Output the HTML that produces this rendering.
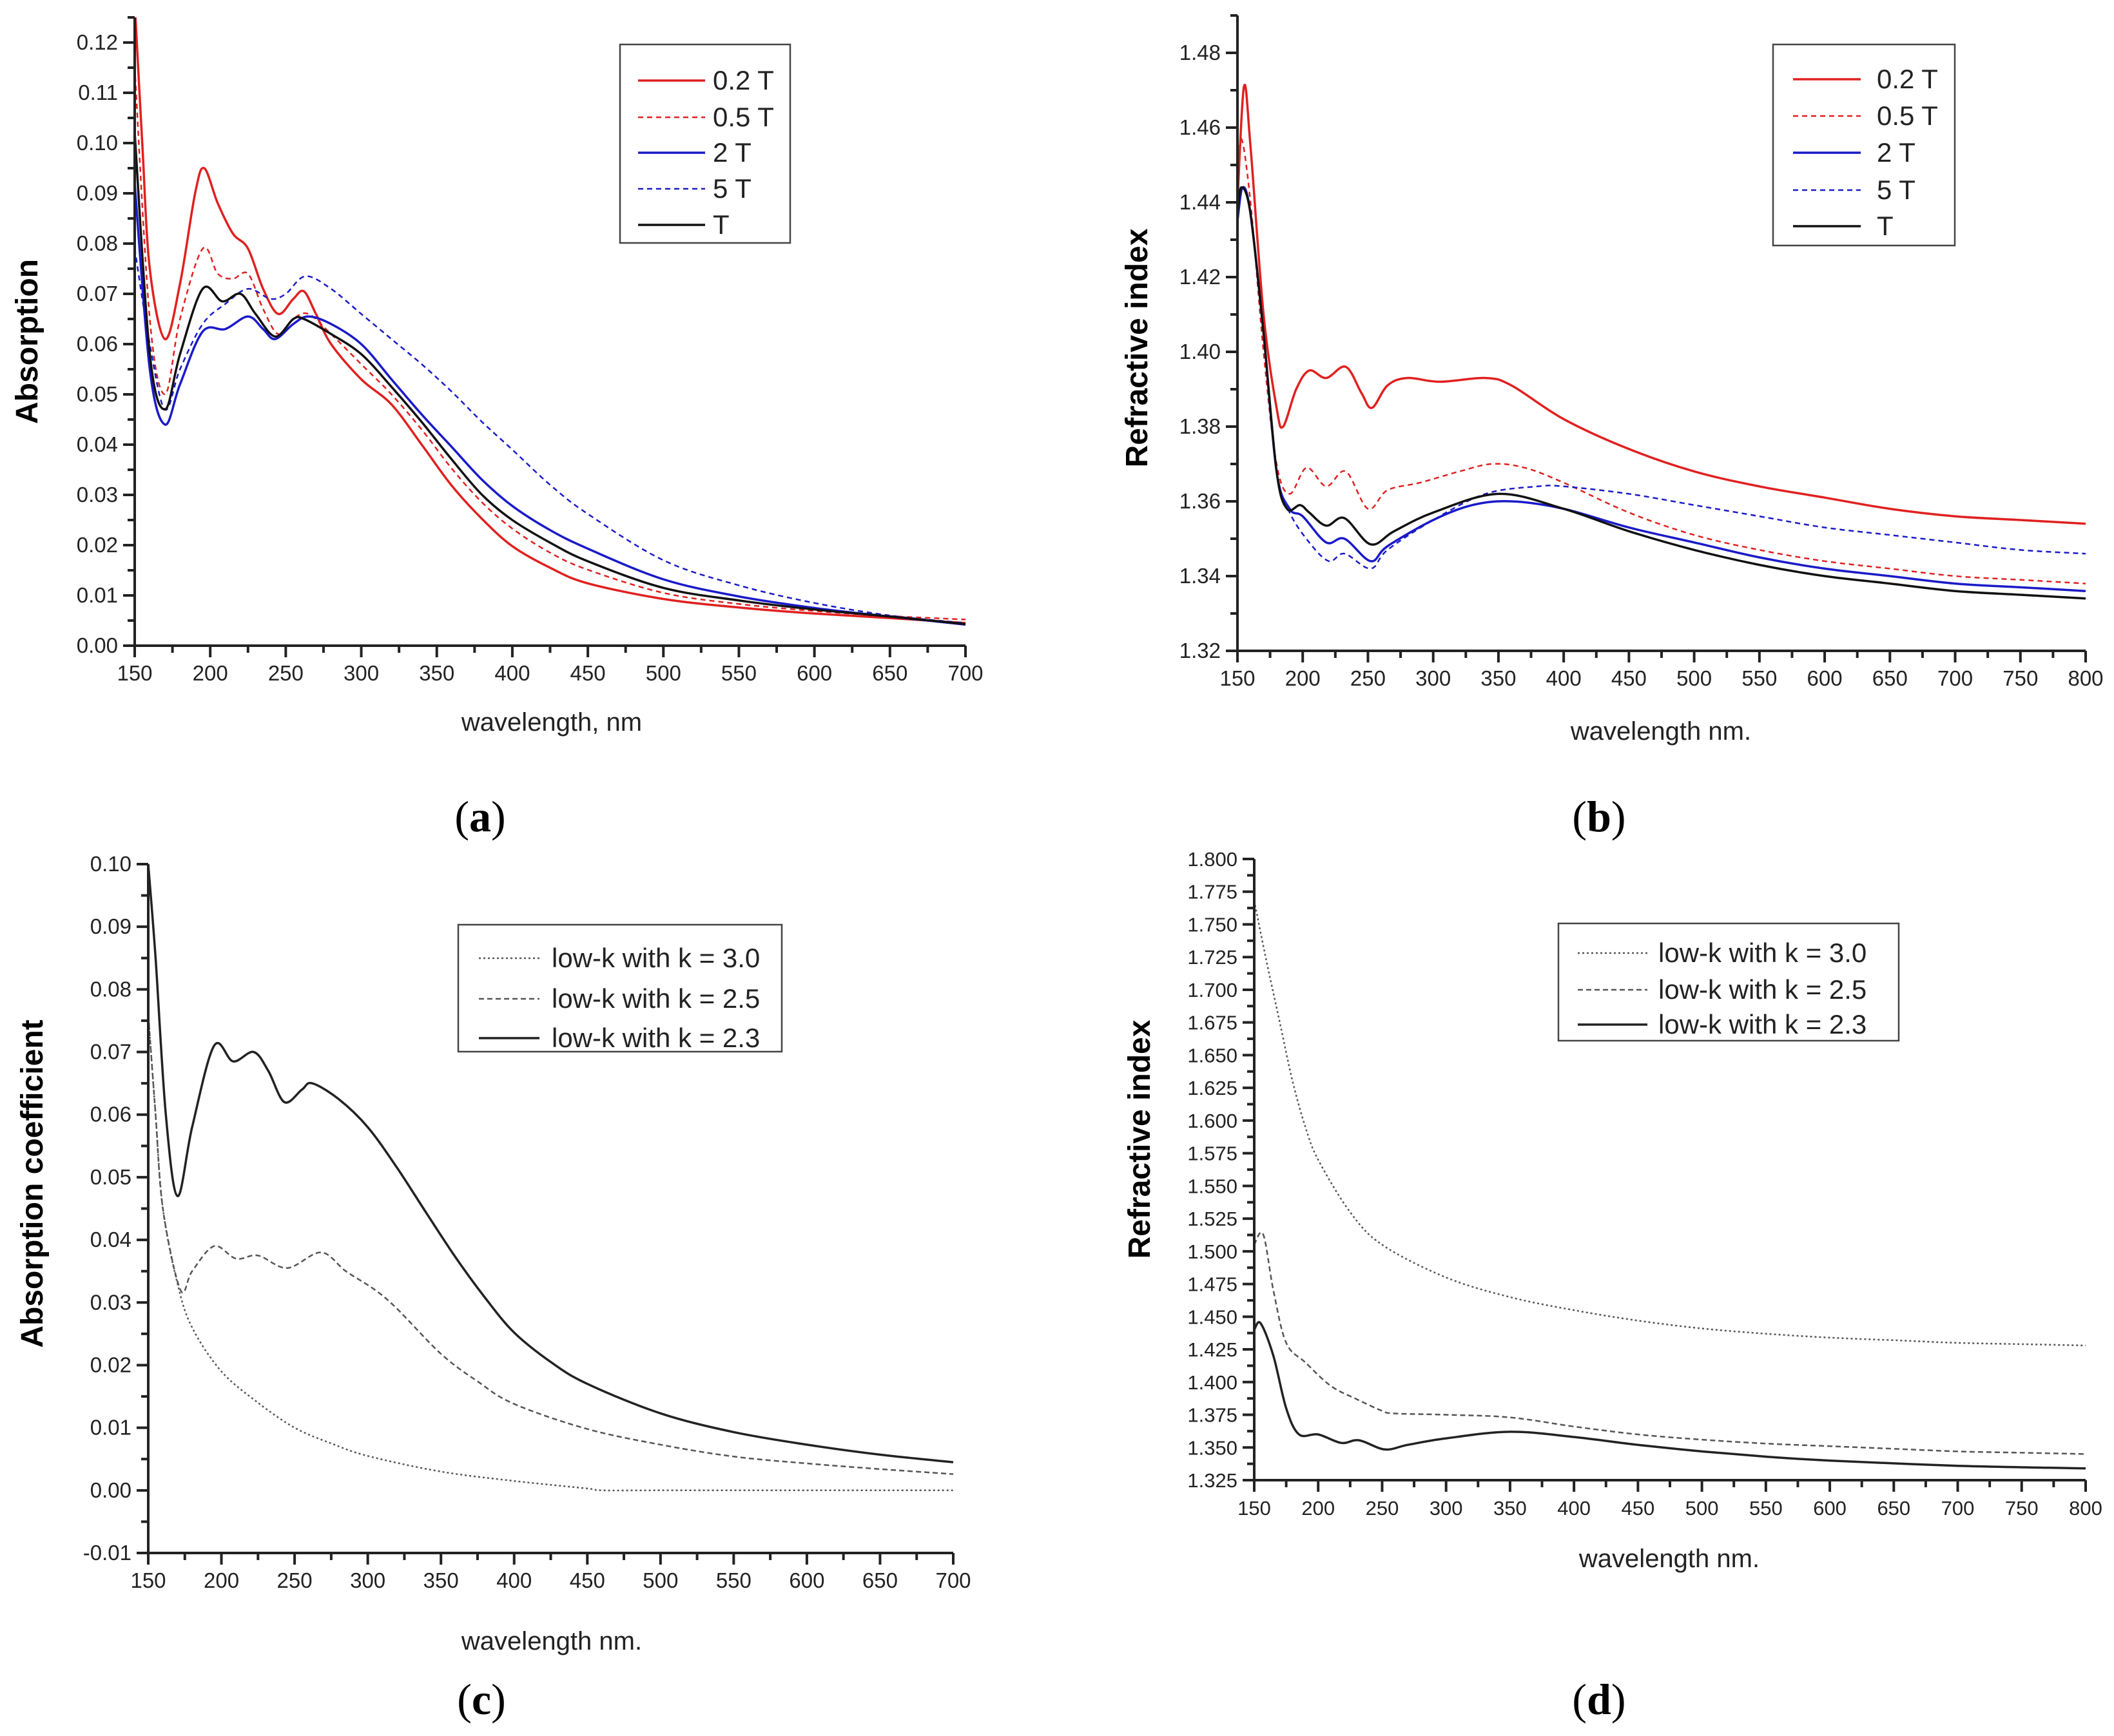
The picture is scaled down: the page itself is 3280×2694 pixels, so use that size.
<!DOCTYPE html>
<html><head><meta charset="utf-8">
<style>
html,body{margin:0;padding:0;background:#fff;}
svg{display:block;font-family:"Liberation Sans",Arial,sans-serif;}
</style></head>
<body>
<svg id="fig" width="3280" height="2694" viewBox="0 0 3280 2694" xmlns="http://www.w3.org/2000/svg">
<rect width="3280" height="2694" fill="#fff"/>
</svg>
<script>
// ---------- Panel (a) data: absorption ----------
const aX_02 = [150,155,160,170,180,190,196,205,215,225,235,245,255,262,270,280,300,320,340,360,380,400,425,450,500,550,600,650,700];
const aY_02 = [0.128,0.100,0.075,0.061,0.072,0.090,0.095,0.088,0.082,0.079,0.071,0.066,0.069,0.0705,0.066,0.060,0.053,0.048,0.040,0.0318,0.0252,0.0198,0.0155,0.0124,0.0093,0.0076,0.0064,0.0055,0.0045];
const aX_05 = [150,160,170,180,195,205,215,225,235,245,255,265,280,300,320,340,360,380,400,425,450,500,550,600,650,700];
const aY_05 = [0.115,0.065,0.050,0.065,0.079,0.074,0.073,0.074,0.067,0.062,0.065,0.066,0.062,0.056,0.050,0.043,0.0352,0.0285,0.0233,0.0185,0.0151,0.0105,0.0083,0.0069,0.0059,0.0052];
const aX_2 = [150,160,170,180,195,210,225,235,243,255,265,280,300,320,340,360,380,400,425,450,500,550,600,650,700];
const aY_2 = [0.092,0.055,0.044,0.052,0.0625,0.063,0.0655,0.063,0.061,0.064,0.0655,0.064,0.060,0.053,0.046,0.0395,0.033,0.0278,0.0230,0.0193,0.0132,0.0098,0.0075,0.0058,0.0042];
const aX_5 = [150,160,170,180,195,210,225,240,250,263,280,300,320,340,360,380,400,425,450,500,550,600,650,700];
const aY_5 = [0.079,0.060,0.047,0.055,0.064,0.068,0.071,0.069,0.070,0.0735,0.071,0.066,0.061,0.056,0.0505,0.0445,0.039,0.032,0.0262,0.017,0.012,0.0085,0.006,0.0045];
const aX_T = [150,160,170,180,195,208,220,230,243,255,262,280,300,320,340,360,380,400,425,450,500,550,600,650,700];
const aY_T = [0.102,0.058,0.047,0.058,0.071,0.0685,0.070,0.066,0.0615,0.065,0.065,0.062,0.058,0.0515,0.0445,0.037,0.030,0.025,0.0205,0.0168,0.0115,0.009,0.0072,0.0058,0.0043];
const aXTicks = [150,200,250,300,350,400,450,500,550,600,650,700];
const aYTicks = ["0.00","0.01","0.02","0.03","0.04","0.05","0.06","0.07","0.08","0.09","0.10","0.11","0.12"];

// ---------- Panel (b) data: refractive index ----------
const bX_02 = [150,155,160,170,180,185,195,205,218,233,245,253,265,280,305,340,360,400,450,500,550,600,650,700,750,800];
const bY_02 = [1.440,1.471,1.455,1.410,1.385,1.380,1.390,1.395,1.393,1.396,1.389,1.385,1.391,1.393,1.392,1.393,1.391,1.382,1.374,1.368,1.364,1.361,1.358,1.356,1.355,1.354];
const bX_05 = [150,153,160,170,180,190,203,218,233,250,265,290,320,345,370,400,450,500,550,600,650,700,750,800];
const bY_05 = [1.445,1.457,1.440,1.400,1.370,1.362,1.369,1.364,1.368,1.358,1.363,1.365,1.368,1.370,1.369,1.365,1.357,1.351,1.347,1.344,1.342,1.340,1.339,1.338];
const bX_2 = [150,154,160,170,180,190,200,218,232,252,265,300,330,360,400,450,500,550,600,650,700,750,800];
const bY_2 = [1.435,1.444,1.437,1.405,1.368,1.358,1.356,1.349,1.350,1.344,1.348,1.355,1.359,1.360,1.358,1.353,1.349,1.345,1.342,1.340,1.338,1.337,1.336];
const bX_5 = [150,154,160,170,180,190,205,220,232,252,265,300,340,380,400,450,500,550,600,650,700,750,800];
const bY_5 = [1.440,1.444,1.437,1.405,1.368,1.357,1.349,1.344,1.346,1.342,1.347,1.355,1.362,1.364,1.364,1.362,1.359,1.356,1.353,1.351,1.349,1.347,1.346];
const bX_T = [150,153,160,170,180,188,198,205,218,232,252,270,300,350,400,450,500,550,600,650,700,750,800];
const bY_T = [1.437,1.444,1.437,1.405,1.368,1.358,1.359,1.357,1.3535,1.3555,1.3485,1.352,1.357,1.362,1.358,1.352,1.347,1.343,1.340,1.338,1.336,1.335,1.334];
const bXTicks = [150,200,250,300,350,400,450,500,550,600,650,700,750,800];
const bYTicks = ["1.32","1.34","1.36","1.38","1.40","1.42","1.44","1.46","1.48"];

// ---------- Panel (c) data: absorption coefficient ----------
const cX_30 = [150,155,160,170,180,200,225,250,275,300,350,400,450,460,500,600,700];
const cY_30 = [0.076,0.060,0.045,0.033,0.026,0.019,0.014,0.010,0.0075,0.0055,0.003,0.0015,0.0003,0,0,0,0];
const cX_25 = [150,155,160,172,180,195,210,225,245,268,285,305,320,350,375,400,450,500,550,600,650,700];
const cY_25 = [0.076,0.060,0.045,0.032,0.035,0.039,0.037,0.0375,0.0355,0.038,0.035,0.032,0.029,0.0218,0.0174,0.0138,0.0098,0.0073,0.0054,0.0043,0.0034,0.0026];
const cX_23 = [150,155,162,170,180,195,208,222,232,243,255,262,280,300,320,340,360,380,400,425,450,500,550,600,650,700];
const cY_23 = [0.100,0.085,0.060,0.047,0.058,0.071,0.0685,0.070,0.067,0.062,0.064,0.065,0.0625,0.058,0.0515,0.0443,0.0372,0.0308,0.0252,0.0205,0.0170,0.0123,0.0093,0.0073,0.0057,0.0045];
const cXTicks = [150,200,250,300,350,400,450,500,550,600,650,700];
const cYTicks = ["-0.01","0.00","0.01","0.02","0.03","0.04","0.05","0.06","0.07","0.08","0.09","0.10"];

// ---------- Panel (d) data: refractive index low-k ----------
const dX_30 = [150,160,170,180,190,200,225,250,300,350,400,450,500,550,600,650,700,750,800];
const dY_30 = [1.768,1.720,1.675,1.630,1.595,1.570,1.530,1.505,1.480,1.465,1.455,1.447,1.441,1.437,1.434,1.432,1.430,1.429,1.428];
const dX_25 = [150,157,165,175,190,210,230,250,260,300,350,400,450,500,550,600,650,700,750,800];
const dY_25 = [1.505,1.513,1.470,1.430,1.415,1.397,1.387,1.378,1.376,1.375,1.373,1.366,1.360,1.356,1.353,1.351,1.349,1.347,1.346,1.345];
const dX_23 = [150,155,165,175,185,200,218,232,252,270,300,350,400,450,500,550,600,700,800];
const dY_23 = [1.440,1.445,1.420,1.380,1.360,1.360,1.3535,1.3555,1.3485,1.352,1.357,1.362,1.358,1.352,1.347,1.343,1.340,1.336,1.334];
const dXTicks = [150,200,250,300,350,400,450,500,550,600,650,700,750,800];
const dYTicks = ["1.325","1.350","1.375","1.400","1.425","1.450","1.475","1.500","1.525","1.550","1.575","1.600","1.625","1.650","1.675","1.700","1.725","1.750","1.775","1.800"];

const NS = "http://www.w3.org/2000/svg";
const svg = document.getElementById('fig');
function mk(tag, attrs, parent){
  const e = document.createElementNS(NS, tag);
  for (const k in attrs) e.setAttribute(k, attrs[k]);
  (parent||svg).appendChild(e);
  return e;
}
function smoothPath(pts){
  let d = "M"+pts[0][0].toFixed(1)+","+pts[0][1].toFixed(1);
  for (let i=0;i<pts.length-1;i++){
    const p0=pts[Math.max(0,i-1)], p1=pts[i], p2=pts[i+1], p3=pts[Math.min(pts.length-1,i+2)];
    const c1x=p1[0]+(p2[0]-p0[0])/6, c1y=p1[1]+(p2[1]-p0[1])/6;
    const c2x=p2[0]-(p3[0]-p1[0])/6, c2y=p2[1]-(p3[1]-p1[1])/6;
    d+=" C"+c1x.toFixed(1)+","+c1y.toFixed(1)+" "+c2x.toFixed(1)+","+c2y.toFixed(1)+" "+p2[0].toFixed(1)+","+p2[1].toFixed(1);
  }
  return d;
}

function panel(cfg){
  const g = mk('g', {});
  
  
  const xs = v => cfg.px0 + (v-cfg.xmin)/(cfg.xmax-cfg.xmin)*(cfg.px1-cfg.px0);
  const ys = v => cfg.py0 - (v-cfg.ymin)/(cfg.ymax-cfg.ymin)*(cfg.py0-cfg.py1);
  const topY = ys(cfg.ytop);
  const clipId = cfg.name+'-clip';
  const cp = mk('clipPath', {id:clipId}, g);
  mk('rect', {x:cfg.px0, y:topY, width:cfg.px1-cfg.px0+10, height:cfg.py0-topY}, cp);
  cfg.series.forEach(s=>{
    const pts = s.x.map((v,i)=>[xs(v), ys(s.y[i])]);
    const p = mk('path', {d:smoothPath(pts), fill:'none', stroke:s.color, 'stroke-width':s.w||3.5, 'stroke-dasharray':s.dash||'none', 'clip-path':'url(#'+clipId+')'}, g);
    
    
  });
  const ax = mk('path', {d:`M${cfg.px0},${topY} L${cfg.px0},${cfg.py0} L${cfg.px1},${cfg.py0}`, fill:'none', stroke:'#222', 'stroke-width':4}, g);
  
  
  const xt = cfg.xticks;
  for (let i=0;i<xt.length;i++){
    const x = xs(xt[i]);
    mk('line', {x1:x, y1:cfg.py0, x2:x, y2:cfg.py0+18, stroke:'#222', 'stroke-width':4}, g);
    if (i<xt.length-1){
      const xm = xs((xt[i]+xt[i+1])/2);
      mk('line', {x1:xm, y1:cfg.py0, x2:xm, y2:cfg.py0+11, stroke:'#222', 'stroke-width':4}, g);
    }
    const t = mk('text', {x:x, y:cfg.py0+54, 'font-size':cfg.tfs, 'text-anchor':'middle', fill:'#222'}, g);
    t.textContent = xt[i];
    
    
  }
  const yt = cfg.yticks;
  for (let i=0;i<yt.length;i++){
    const v = parseFloat(yt[i]);
    const y = ys(v);
    mk('line', {x1:cfg.px0-18, y1:y, x2:cfg.px0, y2:y, stroke:'#222', 'stroke-width':4}, g);
    const vm = v + cfg.yminor;
    if (vm <= cfg.ytop+1e-9){
      const ym = ys(vm);
      mk('line', {x1:cfg.px0-11, y1:ym, x2:cfg.px0, y2:ym, stroke:'#222', 'stroke-width':4}, g);
    }
    const t = mk('text', {x:cfg.px0-26, y:y+11, 'font-size':cfg.tfs, 'text-anchor':'end', fill:'#222'}, g);
    t.textContent = yt[i];
    
    
  }
  const xtit = mk('text', {x:cfg.xtx, y:cfg.xty, 'font-size':40, 'text-anchor':'middle', fill:'#222'}, g);
  xtit.textContent = cfg.xtitle;
  
  
  const ytit = mk('text', {x:0, y:0, 'font-size':48, 'font-weight':'bold', 'text-anchor':'middle', fill:'#000', transform:`translate(${cfg.ytx},${cfg.yty}) rotate(-90)`}, g);
  ytit.textContent = cfg.ytitle;
  
  
  const lab = mk('text', {x:cfg.lx, y:cfg.ly, 'font-size':68, 'text-anchor':'middle', fill:'#000', 'font-family':'"Liberation Serif",serif'}, g);
  lab.innerHTML = '(<tspan font-weight="bold">'+cfg.letter+'</tspan>)';
  
  
  const L = cfg.legend;
  const lg = mk('g', {}, g);
  
  
  mk('rect', {x:L.x, y:L.y, width:L.w, height:L.h, fill:'#fff', stroke:'#444', 'stroke-width':2.5}, lg);
  cfg.series.forEach((s,i)=>{
    const yy = L.ey[i];
    mk('line', {x1:L.lx0, y1:yy, x2:L.lx1, y2:yy, stroke:s.color, 'stroke-width':s.w||3.5, 'stroke-dasharray':s.dash||'none'}, lg);
    const t = mk('text', {x:L.tx, y:yy+14, 'font-size':L.fs, fill:'#222'}, lg);
    t.textContent = s.label;
    
    
  });
}

const RED='#e02020', BLUE='#1a1ac8', BLK='#111', GREY='#555';

panel({name:'panel-a', letter:'a', px0:209, px1:1498, xmin:150, xmax:700, py0:1002, py1:924, ymin:0, ymax:0.01, ytop:0.125,
  xticks:aXTicks, yticks:aYTicks, yminor:0.005, tfs:33,
  xtitle:'wavelength, nm', xtx:856, xty:1134, ytitle:'Absorption', ytx:58, yty:530, lx:745, ly:1290,
  series:[
    {id:'series-0.2T', label:'0.2 T', x:aX_02, y:aY_02, color:RED},
    {id:'series-0.5T', label:'0.5 T', x:aX_05, y:aY_05, color:RED, dash:'8,6', w:2.5},
    {id:'series-2T', label:'2 T', x:aX_2, y:aY_2, color:BLUE},
    {id:'series-5T', label:'5 T', x:aX_5, y:aY_5, color:BLUE, dash:'8,6', w:2.5},
    {id:'series-T', label:'T', x:aX_T, y:aY_T, color:BLK}],
  legend:{x:962, y:69, w:264, h:308, ey:[125,182,237,293,349], lx0:990, lx1:1094, tx:1106, fs:42}
});

panel({name:'panel-b', letter:'b', px0:1920, px1:3236, xmin:150, xmax:800, py0:1010, py1:82, ymin:1.32, ymax:1.48, ytop:1.49,
  xticks:bXTicks, yticks:bYTicks, yminor:0.01, tfs:33,
  xtitle:'wavelength nm.', xtx:2577, xty:1148, ytitle:'Refractive index', ytx:1780, yty:540, lx:2481, ly:1290,
  series:[
    {id:'series-0.2T', label:'0.2 T', x:bX_02, y:bY_02, color:RED},
    {id:'series-0.5T', label:'0.5 T', x:bX_05, y:bY_05, color:RED, dash:'8,6', w:2.5},
    {id:'series-2T', label:'2 T', x:bX_2, y:bY_2, color:BLUE},
    {id:'series-5T', label:'5 T', x:bX_5, y:bY_5, color:BLUE, dash:'8,6', w:2.5},
    {id:'series-T', label:'T', x:bX_T, y:bY_T, color:BLK}],
  legend:{x:2751, y:69, w:282, h:312, ey:[123,180,237,295,351], lx0:2782, lx1:2887, tx:2912, fs:42}
});

panel({name:'panel-c', letter:'c', px0:230, px1:1479, xmin:150, xmax:700, py0:2410, py1:1341, ymin:-0.01, ymax:0.10, ytop:0.10,
  xticks:cXTicks, yticks:cYTicks, yminor:0.005, tfs:33,
  xtitle:'wavelength nm.', xtx:856, xty:2560, ytitle:'Absorption coefficient', ytx:66, yty:1837, lx:747, ly:2660,
  series:[
    {id:'series-k3.0', label:'low-k with k = 3.0', x:cX_30, y:cY_30, color:GREY, dash:'3,4', w:2.5},
    {id:'series-k2.5', label:'low-k with k = 2.5', x:cX_25, y:cY_25, color:GREY, dash:'8,5', w:2.5},
    {id:'series-k2.3', label:'low-k with k = 2.3', x:cX_23, y:cY_23, color:'#222', w:3.5}],
  legend:{x:711, y:1435, w:502, h:197, ey:[1487,1550,1611], lx0:743, lx1:837, tx:856, fs:42}
});

panel({name:'panel-d', letter:'d', px0:1946, px1:3236, xmin:150, xmax:800, py0:2297, py1:1333, ymin:1.325, ymax:1.800, ytop:1.800,
  xticks:dXTicks, yticks:dYTicks, yminor:0.0125, tfs:31,
  xtitle:'wavelength nm.', xtx:2590, xty:2432, ytitle:'Refractive index', ytx:1784, yty:1768, lx:2481, ly:2660,
  series:[
    {id:'series-k3.0', label:'low-k with k = 3.0', x:dX_30, y:dY_30, color:GREY, dash:'3,4', w:2.5},
    {id:'series-k2.5', label:'low-k with k = 2.5', x:dX_25, y:dY_25, color:GREY, dash:'8,5', w:2.5},
    {id:'series-k2.3', label:'low-k with k = 2.3', x:dX_23, y:dY_23, color:'#222', w:3.5}],
  legend:{x:2418, y:1433, w:528, h:182, ey:[1479,1536,1590], lx0:2448, lx1:2556, tx:2573, fs:42}
});
</script>
</body></html>
